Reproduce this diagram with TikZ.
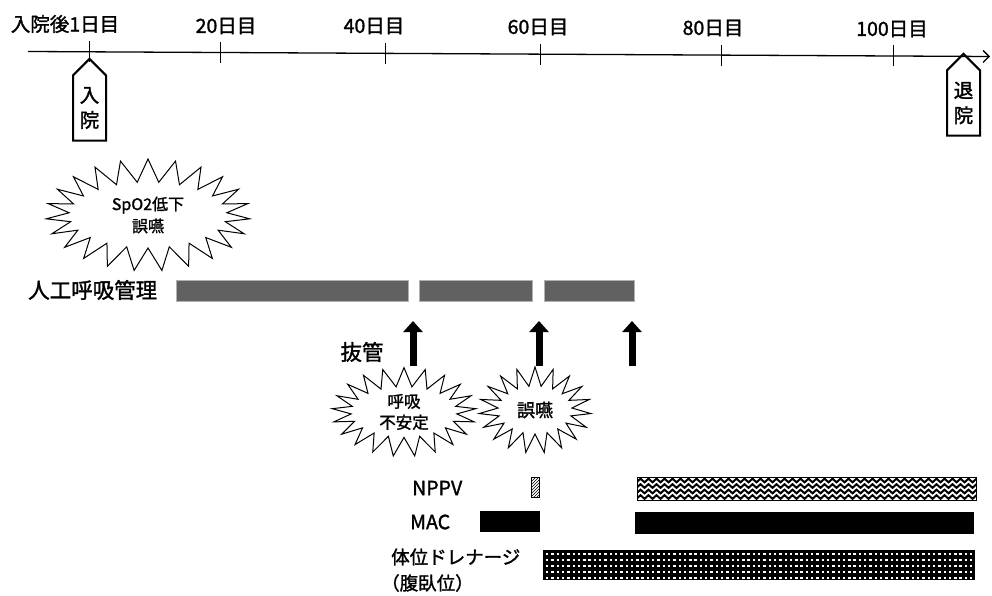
\documentclass[tikz,border=0pt]{standalone}
\usepackage{fontspec}
\setmainfont{Noto Sans CJK JP}[FakeBold=1.5]
\usetikzlibrary{shapes.symbols,patterns,arrows.meta,decorations.pathmorphing}

\begin{document}
\begin{tikzpicture}[x=1pt,y=-1pt,
  lbl/.style={font=\fontsize{21.5}{24}\selectfont, inner sep=0pt},
  drainlbl/.style={font=\fontsize{18.5}{22}\selectfont, inner sep=0pt},
  daylbl/.style={font=\fontsize{19.5}{22}\selectfont, inner sep=0pt},
  tick/.style={line width=1pt},
  tag/.style={draw, line width=2pt, signal, signal to=north, signal pointer angle=90,
    minimum width=33pt, minimum height=76pt, inner sep=1pt, align=center,
    font=\fontsize{19.5}{25}\selectfont},
  burst/.style={draw, line width=1pt, starburst, random starburst=0, align=center,
    inner sep=0pt},
  ventbar/.style={draw=gray!60, line width=0.5pt, fill=black!62},
  macbar/.style={fill=black},
  drainbar/.style={fill=black},
  bigarrow/.style={line width=7pt, -{Triangle[width=19pt,length=11pt]}},
]
\useasboundingbox (0,0) rectangle (992,596);

% axis
\coordinate (axL) at (28,51.5);
\coordinate (axR) at (990,56.5);
\draw[line width=1.3pt, -{Straight Barb[length=6pt,width=12pt]}] (axL) -- (axR);
\foreach \x in {89,220,385,540,721,893}{
  \pgfmathsetmacro{\yy}{51.5+(\x-28)*5/962}
  \draw[tick] (\x,\yy-10.5) -- (\x,\yy+10.5);
}
\node[daylbl] (d1) at (65,24) {入院後1日目};
\node[daylbl] (d20) at (226,26) {20日目};
\node[daylbl] (d40) at (374,26) {40日目};
\node[daylbl] (d60) at (538,27) {60日目};
\node[daylbl] (d80) at (713,28) {80日目};
\node[daylbl] (d100) at (892,29) {100日目};

% admission / discharge tags
\node[tag] (nyuin) at (89.5,108) {入\\院};
\node[tag] (taiin) at (963.5,103) {退\\院};

% bursts
\node[burst, minimum width=204pt, minimum height=112pt, starburst points=23,
  starburst point height=23pt, font=\fontsize{16}{22}\selectfont] (b1) at (148,215) {SpO2低下\\誤嚥};
\node[burst, minimum width=144pt, minimum height=88pt, starburst points=21,
  starburst point height=19pt, font=\fontsize{16.5}{21}\selectfont] (b2) at (404,412) {呼吸\\不安定};
\node[burst, minimum width=112pt, minimum height=86pt, starburst points=19,
  starburst point height=19pt, font=\fontsize{18}{20}\selectfont] (b3) at (535,410) {誤嚥};

% ventilation
\node[lbl, anchor=west] (vent) at (28,290) {人工呼吸管理};
\fill[ventbar] (176,280) rectangle (408,301);
\fill[ventbar] (419,280) rectangle (532,301);
\fill[ventbar] (544,280) rectangle (634,301);

% extubation arrows
\node[lbl] (bakkan) at (362,352) {抜管};
\coordinate (a1s) at (413,366); \coordinate (a1e) at (413,321);
\coordinate (a2s) at (539,366); \coordinate (a2e) at (539,321);
\coordinate (a3s) at (632,366); \coordinate (a3e) at (632,321);
\draw[bigarrow] (a1s) -- (a1e);
\draw[bigarrow] (a2s) -- (a2e);
\draw[bigarrow] (a3s) -- (a3e);

% NPPV
\node[daylbl, anchor=west] (nppv) at (412,488) {NPPV};
\draw[line width=0.6pt, pattern=north east lines] (531,477) rectangle (539,497);
\begin{scope}
  \clip (637,477) rectangle (976,500);
  \foreach \yy in {480.5,486,491.5,497}{
    \draw[line width=2pt, decorate, decoration={snake, segment length=8pt, amplitude=1.8pt}]
      (630,\yy) -- (985,\yy);
  }
\end{scope}
\draw[line width=1pt] (637,477) rectangle (976,500);

% MAC
\node[daylbl, anchor=west] (mac) at (410,522) {MAC};
\fill[macbar] (480,511) rectangle (540,532);
\fill[macbar] (635,512) rectangle (974,534);

% postural drainage
\node[drainlbl, anchor=west] (drain) at (391,557) {体位ドレナージ};
\node[drainlbl, anchor=west] (prone) at (381,583) {（腹臥位）};
\fill[drainbar] (543,550) rectangle (975,580);
\foreach \yy in {554,560,566,572,578}{
  \foreach \xx in {546,551.3,...,973}{
    \fill[white] (\xx,\yy-1.2) rectangle +(2.4,2.4);
  }
}
\end{tikzpicture}
\end{document}
